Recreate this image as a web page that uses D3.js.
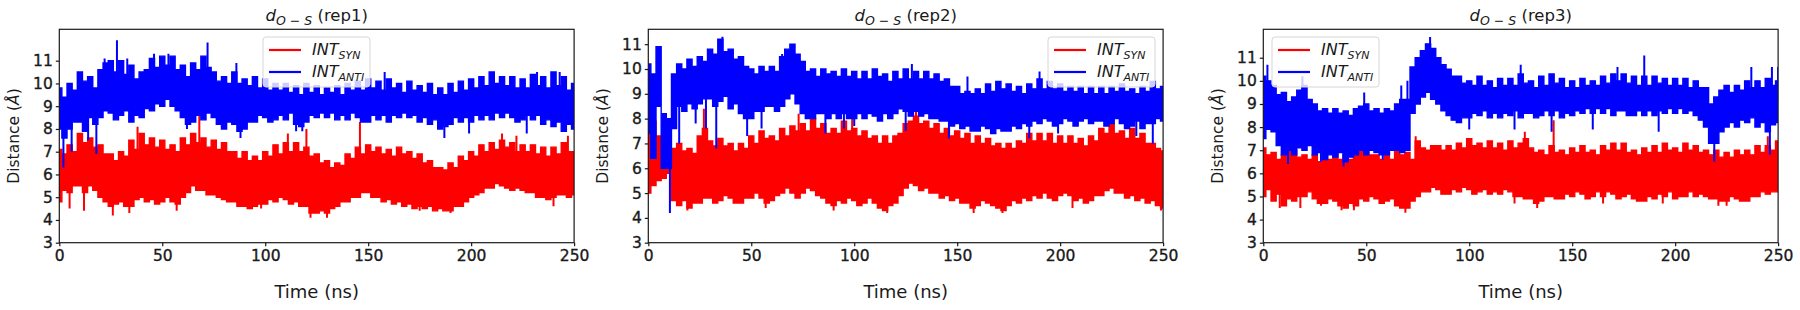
<!DOCTYPE html>
<html>
<head>
<meta charset="utf-8">
<script src="https://cdn.jsdelivr.net/npm/d3@7"></script>
<style>
body{margin:0;background:#fff}
svg{display:block;font-family:"DejaVu Sans",sans-serif}
</style>
</head>
<body>
<svg id="chart" width="1800" height="310"></svg>
<script>
// sampling grid of the read-off envelopes (ns)
const step = 2.5;
const times = d3.range(0, 250 + step / 2, step);
const xTicks = [0, 50, 100, 150, 200, 250];
const yTicks = [3, 4, 5, 6, 7, 8, 9, 10, 11];
const replicas = ["rep1", "rep2", "rep3"];
const yTop = [12.38, 11.6, 12.23];
const seriesNames = ["SYN", "ANTI"];
const colors = ["#ff0000", "#0000ff"];

// rep1
const rep1SynHi = [7.1,6.9,7.3,7.0,7.8,7.4,7.6,7.2,7.3,6.9,6.9,6.6,7.0,6.8,7.5,7.1,7.8,7.3,7.6,7.2,7.5,7.1,7.3,7.0,7.6,7.3,7.8,7.4,7.6,7.2,7.5,7.1,7.4,7.0,7.0,6.7,7.0,6.6,6.8,6.6,7.0,6.8,7.3,6.9,7.4,7.0,7.4,7.0,7.2,6.8,6.9,6.5,6.6,6.3,6.5,6.4,6.9,6.7,7.2,6.9,7.3,7.0,7.2,6.9,7.1,6.8,7.2,6.9,7.0,6.7,6.9,6.5,6.6,6.3,6.3,6.2,6.5,6.3,6.8,6.6,7.0,6.8,7.3,7.0,7.4,7.1,7.5,7.2,7.4,7.0,7.3,7.0,7.3,6.9,7.2,6.8,7.2,6.9,7.4,7.0,7.0];
const rep1SynLo = [4.8,5.3,5.2,5.5,5.5,5.2,5.5,5.3,5.0,4.8,4.6,4.7,4.8,4.6,4.6,4.9,5.0,4.8,4.9,4.7,4.8,5.0,4.8,4.7,5.0,5.2,5.5,5.3,5.3,5.1,5.1,5.0,4.9,4.8,4.8,4.6,4.6,4.5,4.6,4.7,4.7,4.9,4.8,5.0,4.9,4.7,4.8,4.6,4.6,4.3,4.3,4.4,4.3,4.5,4.6,4.8,4.8,5.0,5.0,5.2,5.2,5.0,5.0,4.8,4.9,4.7,4.8,4.6,4.7,4.5,4.6,4.5,4.6,4.4,4.5,4.4,4.4,4.6,4.6,4.8,5.0,5.1,5.2,5.4,5.4,5.6,5.5,5.4,5.3,5.4,5.3,5.2,5.2,5.0,5.0,4.9,5.0,5.1,5.1,5.0,5.1];
const rep1AntiHi = [9.8,9.4,10.0,9.7,10.5,10.1,10.3,9.8,10.6,10.9,11.0,10.5,11.0,10.4,10.8,10.2,10.5,10.6,11.1,10.7,11.2,10.8,11.2,10.6,10.8,10.3,10.9,10.6,11.2,10.7,10.5,10.1,10.3,10.0,10.5,10.0,10.2,9.9,10.3,9.8,10.2,9.7,10.0,9.7,10.0,9.6,9.9,9.5,10.0,9.6,9.9,9.5,9.8,9.6,9.9,9.5,10.0,9.7,10.1,9.7,10.2,9.8,10.1,9.7,10.2,9.8,10.0,9.6,10.1,9.7,9.9,9.6,10.0,9.5,9.8,9.5,10.0,9.6,10.1,9.7,10.2,9.8,10.3,9.9,10.5,10.0,10.3,9.9,10.3,9.8,10.2,9.8,10.4,9.9,10.3,9.8,10.5,9.9,10.3,9.7,10.0];
const rep1AntiLo = [8.0,7.6,8.0,8.3,8.3,7.9,8.5,8.2,8.5,8.8,8.7,8.4,8.6,8.8,8.3,8.6,8.5,8.9,8.8,9.1,9.0,9.3,9.0,8.8,8.5,8.2,8.3,8.6,8.4,8.7,8.5,8.2,8.0,8.3,8.2,7.9,8.0,8.3,8.3,8.6,8.5,8.3,8.4,8.6,8.4,8.7,8.2,8.1,8.3,8.6,8.5,8.7,8.5,8.7,8.4,8.6,8.4,8.7,8.5,8.3,8.3,8.6,8.4,8.6,8.3,8.6,8.5,8.7,8.5,8.6,8.3,8.5,8.2,8.4,8.0,8.1,8.2,8.5,8.3,8.5,8.3,8.6,8.4,8.6,8.4,8.7,8.5,8.7,8.5,8.3,8.4,8.6,8.4,8.6,8.2,8.4,8.1,8.3,7.9,8.2,8.0];
const rep1SynSpikes = [[5,4.5],[12,4.4],[26,4.2],[34,4.3],[38,8.1],[57,4.4],[68,8.6],[98,4.5],[111,7.8],[120,8.0],[122,4.1],[130,4.1],[146,8.3],[175,4.4],[190,4.3],[215,7.8],[222,7.7],[240,4.6],[247,7.7]];
const rep1AntiSpikes = [[2,6.3],[6,7.0],[14,7.5],[18,6.9],[22,11.1],[28,11.9],[33,11.1],[46,11.3],[53,11.3],[62,8.0],[72,11.8],[86,10.9],[88,7.6],[115,7.9],[118,7.9],[158,10.5],[187,7.6],[199,7.8],[227,7.8],[232,10.5],[243,10.5]];

// rep2
const rep2SynHi = [7.5,7.9,7.3,6.8,6.2,6.8,7.0,6.7,6.8,6.6,7.3,7.6,7.1,6.9,7.2,6.9,7.0,6.7,7.0,6.8,7.3,7.0,7.5,7.2,7.3,7.1,7.6,7.3,7.7,7.5,7.8,7.5,8.0,7.6,7.8,7.4,7.6,7.4,7.9,7.5,7.6,7.3,7.5,7.2,7.3,7.0,7.3,7.0,7.3,7.4,7.8,7.9,8.1,7.8,7.9,7.6,7.8,7.4,7.6,7.3,7.5,7.2,7.4,7.0,7.3,7.0,7.2,6.9,7.0,6.8,7.0,6.8,7.1,7.0,7.4,7.1,7.4,7.1,7.4,7.0,7.3,7.0,7.3,7.0,7.2,6.9,7.3,7.1,7.6,7.4,7.8,7.4,7.5,7.2,7.6,7.2,7.4,7.0,7.0,6.8,6.7];
const rep2SynLo = [5.0,5.3,5.5,5.6,5.8,4.7,4.5,4.7,4.4,4.6,4.6,4.8,4.8,4.6,4.7,4.9,4.8,4.6,4.6,4.8,4.8,5.0,4.8,4.6,4.7,4.9,5.0,5.2,5.0,4.8,5.0,5.2,5.1,4.9,4.8,4.6,4.5,4.7,4.6,4.8,4.7,4.5,4.6,4.8,4.6,4.4,4.3,4.5,4.6,4.9,5.2,5.4,5.3,5.1,5.2,5.0,5.0,4.8,4.9,4.7,4.8,4.6,4.6,4.4,4.5,4.7,4.6,4.5,4.4,4.3,4.5,4.7,4.6,4.8,4.7,4.9,4.8,5.0,4.8,4.7,4.9,5.0,4.9,4.7,4.8,4.6,4.7,4.9,4.9,5.1,5.2,5.0,5.0,4.8,4.9,4.7,4.8,4.6,4.7,4.5,4.4];
const rep2AntiHi = [10.2,9.8,10.9,8.2,8.0,9.8,10.2,10.0,10.4,10.1,10.5,10.3,10.8,10.6,11.2,10.7,10.8,10.4,10.5,10.1,10.0,9.8,10.1,9.9,10.1,9.9,10.5,10.8,11.0,10.6,10.3,9.9,10.0,9.7,10.0,9.8,9.9,9.7,10.0,9.7,9.9,9.6,9.9,9.6,10.0,9.7,9.8,9.5,9.9,9.6,10.0,9.6,9.9,9.6,9.9,9.6,9.8,9.5,9.6,9.3,9.3,9.0,9.1,9.0,9.2,9.0,9.4,9.1,9.5,9.2,9.4,9.1,9.3,9.0,9.4,9.2,9.6,9.2,9.5,9.2,9.4,9.1,9.3,9.1,9.3,9.0,9.3,9.0,9.3,9.0,9.3,9.1,9.4,9.1,9.2,9.0,9.3,9.1,9.5,9.2,9.3];
const rep2AntiLo = [7.4,6.4,8.5,6.0,6.0,7.6,8.5,8.3,8.6,8.4,8.6,8.8,8.8,8.5,8.7,8.9,8.4,8.6,8.2,8.0,8.0,8.3,8.3,8.5,8.5,8.3,8.5,8.8,9.0,8.6,8.2,8.0,8.0,8.2,8.2,8.0,8.2,8.0,8.2,8.0,8.0,8.2,8.0,8.2,8.1,7.9,8.2,8.0,8.2,8.4,8.3,8.1,8.3,8.1,8.2,8.0,8.0,7.9,7.9,7.7,7.8,7.6,7.7,7.5,7.5,7.7,7.6,7.4,7.6,7.5,7.5,7.7,7.6,7.8,7.7,7.9,7.8,8.0,7.9,7.7,7.8,8.0,7.9,7.7,7.9,8.0,7.8,7.9,7.9,7.7,7.8,8.0,7.8,7.6,7.7,7.9,7.6,7.8,7.8,8.0,7.9];
const rep2SynSpikes = [[3,8.0],[19,4.3],[27,8.4],[57,4.4],[73,8.2],[80,8.3],[90,4.3],[99,8.2],[116,4.2],[130,8.3],[158,4.2],[172,4.2],[206,4.4],[249,4.3]];
const rep2AntiSpikes = [[3,6.4],[10.5,4.2],[15,7.0],[23,7.8],[28,7.6],[33,6.8],[36,11.3],[48,7.3],[55,7.6],[65,10.6],[86,7.4],[95,7.6],[100,7.7],[125,7.5],[128,10.2],[146,7.2],[155,9.7],[185,7.2],[190,9.9],[199,7.4],[237,7.3],[245,7.0]];

// rep3
const rep3SynHi = [7.1,6.8,6.9,6.6,6.8,7.0,7.0,6.7,6.8,6.6,6.8,6.5,6.8,6.6,6.9,6.6,6.8,6.6,7.0,7.2,7.1,6.8,6.8,6.6,6.9,6.6,7.0,6.8,6.9,6.6,7.4,7.1,7.0,7.2,7.2,7.0,7.2,7.0,7.3,7.1,7.5,7.2,7.3,7.1,7.4,7.1,7.3,7.0,7.4,7.1,7.3,7.5,7.1,6.9,7.0,6.8,7.2,6.9,7.0,6.8,7.1,6.9,7.2,6.9,7.0,6.8,7.2,7.0,7.3,7.0,7.3,6.9,7.0,6.8,7.1,6.9,7.2,6.9,7.3,7.0,7.1,6.9,7.3,7.0,7.2,6.9,7.0,6.8,7.0,6.7,6.9,6.7,7.0,6.8,7.0,6.8,7.2,6.9,7.2,7.0,7.4];
const rep3SynLo = [5.0,5.3,4.8,5.1,4.6,4.9,4.8,5.0,5.0,5.2,4.9,4.7,4.7,4.9,4.8,4.6,4.5,4.7,4.6,4.9,4.8,5.0,4.9,4.7,4.8,4.9,4.6,4.5,4.5,4.8,5.0,5.2,5.2,5.4,5.3,5.1,5.1,5.3,5.2,5.4,5.3,5.1,5.2,5.3,5.1,5.2,5.1,5.3,5.2,5.0,5.0,4.9,4.9,4.7,4.8,5.0,5.0,4.9,4.9,5.1,5.0,5.2,5.1,4.9,5.0,5.2,5.0,5.2,5.1,4.9,5.0,5.1,4.9,4.8,4.8,5.0,4.9,5.1,5.0,5.2,4.9,5.0,5.0,5.2,5.0,5.1,5.0,4.9,4.9,4.8,4.8,5.0,4.9,4.8,4.8,5.0,5.0,5.2,5.1,5.2,5.2];
const rep3AntiHi = [10.2,10.0,9.8,9.4,9.5,9.1,9.3,9.6,9.8,9.2,9.0,8.7,8.8,8.6,8.8,8.6,8.7,8.5,8.8,8.9,9.0,8.7,8.8,8.6,8.8,8.7,9.0,9.2,9.2,10.6,11.0,11.3,11.6,11.4,11.0,10.7,10.5,10.2,10.2,9.9,10.0,9.8,10.2,9.8,10.0,9.7,10.1,9.8,10.1,9.8,10.3,9.9,10.0,9.7,10.2,9.8,10.3,9.9,10.1,9.7,10.0,9.7,10.1,9.8,10.0,9.8,10.2,9.9,10.3,10.0,10.3,9.9,10.2,9.8,10.2,9.8,10.2,9.9,10.1,9.8,10.1,9.8,10.1,9.7,10.0,9.7,9.7,9.0,9.3,9.6,9.8,9.5,9.8,9.6,10.0,9.7,10.0,9.7,10.1,9.8,10.0];
const rep3AntiLo = [7.5,7.9,7.8,7.2,6.8,7.0,6.8,7.1,7.0,7.2,6.8,6.9,6.6,6.8,6.7,6.9,6.5,6.7,6.8,7.0,6.8,7.0,6.9,6.8,6.8,7.0,7.0,6.9,7.0,8.6,9.0,9.3,9.5,9.2,9.0,8.7,8.5,8.3,8.2,8.4,8.4,8.6,8.5,8.7,8.4,8.6,8.4,8.6,8.5,8.7,8.4,8.6,8.6,8.4,8.5,8.7,8.5,8.7,8.4,8.6,8.5,8.7,8.6,8.8,8.6,8.8,8.6,8.8,8.5,8.7,8.7,8.5,8.5,8.7,8.5,8.7,8.5,8.7,8.6,8.8,8.6,8.8,8.6,8.7,8.5,8.3,8.0,7.3,7.3,7.8,8.0,8.2,8.0,8.3,8.2,8.4,8.0,8.2,7.8,8.1,8.2];
const rep3SynSpikes = [[8,4.5],[18,4.5],[28,4.6],[38,4.4],[44,4.4],[48,7.4],[69,4.3],[74,7.6],[122,4.7],[127,7.8],[133,4.5],[141,8.3],[165,4.7],[194,4.7],[221,4.6],[225,4.6],[245,7.6]];
const rep3AntiSpikes = [[2,10.7],[12,6.4],[19,10.2],[28,6.5],[39,6.3],[49,9.5],[58,6.6],[67,9.8],[70,10.0],[78,9.8],[81,11.9],[100,7.9],[122,7.9],[125,10.7],[140,7.8],[160,7.9],[172,10.6],[185,11.1],[192,7.8],[219,6.5],[237,10.6],[246,6.8],[247,10.6],[250,10.6]];

const panels = [
  {syn: [rep1SynLo, rep1SynHi, rep1SynSpikes], anti: [rep1AntiLo, rep1AntiHi, rep1AntiSpikes]},
  {syn: [rep2SynLo, rep2SynHi, rep2SynSpikes], anti: [rep2AntiLo, rep2AntiHi, rep2AntiSpikes]},
  {syn: [rep3SynLo, rep3SynHi, rep3SynSpikes], anti: [rep3AntiLo, rep3AntiHi, rep3AntiSpikes]}
];

// layout
const panelLeft = [59.3, 648.3, 1263.3];
const panelW = 514.8, plotTop = 29.3, plotBottom = 242.7;
const legendLeft = [263, 1048, 1272];
const ink = "#1a1a1a";

const svg = d3.select("#chart");

panels.forEach((p, i) => {
  const left = panelLeft[i];
  const x = d3.scaleLinear().domain([0, 250]).range([left, left + panelW]);
  const y = d3.scaleLinear().domain([3, yTop[i]]).range([plotBottom, plotTop]);
  const g = svg.append("g");

  const clipId = "clip" + i;
  svg.append("clipPath").attr("id", clipId)
    .append("rect")
    .attr("x", left).attr("y", plotTop)
    .attr("width", panelW).attr("height", plotBottom - plotTop);

  const plot = g.append("g").attr("clip-path", "url(#" + clipId + ")");

  [p.syn, p.anti].forEach((s, k) => {
    const [lo, hi, spikes] = s;
    const band = d3.zip(times, lo, hi);
    const area = d3.area()
      .curve(d3.curveStep)
      .x(d => x(d[0]))
      .y0(d => y(d[1]))
      .y1(d => y(d[2]));
    plot.append("path")
      .datum(band)
      .attr("d", area)
      .attr("fill", colors[k])
      .attr("stroke", colors[k])
      .attr("stroke-width", 1.4)
      .attr("stroke-linejoin", "miter");

    const bis = d3.bisector(d => d[0]).center;
    plot.append("g").selectAll("line")
      .data(spikes)
      .join("line")
      .attr("x1", d => x(d[0])).attr("x2", d => x(d[0]))
      .attr("y1", d => { const b = band[bis(band, d[0])]; return y((b[1] + b[2]) / 2); })
      .attr("y2", d => y(d[1]))
      .attr("stroke", colors[k])
      .attr("stroke-width", 2);
  });

  // frame
  g.append("rect")
    .attr("x", left).attr("y", plotTop)
    .attr("width", panelW).attr("height", plotBottom - plotTop)
    .attr("fill", "none").attr("stroke", ink).attr("stroke-width", 1.2);

  const xAxis = g.append("g")
    .attr("transform", "translate(0," + plotBottom + ")")
    .call(d3.axisBottom(x).tickValues(xTicks).tickSize(3.5).tickPadding(4).tickFormat(d3.format("d")));
  const yAxis = g.append("g")
    .attr("transform", "translate(" + left + ",0)")
    .call(d3.axisLeft(y).tickValues(yTicks).tickSize(3.5).tickPadding(3).tickFormat(d3.format("d")));
  [xAxis, yAxis].forEach(a => {
    a.select(".domain").remove();
    a.selectAll(".tick line").attr("stroke", ink).attr("stroke-width", 1.2);
    a.selectAll(".tick text")
      .attr("fill", ink).attr("stroke", ink).attr("stroke-width", 0.35)
      .style("font-size", "15.5px").style("font-family", "DejaVu Sans");
  });

  // title
  const cx = left + panelW / 2;
  const title = g.append("text")
    .attr("x", cx).attr("y", 21)
    .attr("text-anchor", "middle")
    .attr("fill", ink)
    .style("font-size", "16.5px");
  title.append("tspan").style("font-style", "italic").text("d");
  title.append("tspan").attr("dy", 4).style("font-size", "12.5px").style("font-style", "italic").text("O \u2212 S");
  title.append("tspan").attr("dy", -4).text(" (" + replicas[i] + ")");

  // axis labels
  g.append("text")
    .attr("x", cx).attr("y", 298)
    .attr("text-anchor", "middle")
    .attr("fill", ink)
    .style("font-size", "18px")
    .text("Time (ns)");
  const yl = g.append("text")
    .attr("transform", "translate(" + (left - 40) + "," + ((plotTop + plotBottom) / 2) + ") rotate(-90)")
    .attr("text-anchor", "middle")
    .attr("fill", ink)
    .style("font-size", "15.5px");
  yl.append("tspan").text("Distance (");
  yl.append("tspan").style("font-style", "italic").text("\u00c5");
  yl.append("tspan").text(")");

  // legend
  const lg = g.append("g").attr("transform", "translate(" + legendLeft[i] + ",37)");
  lg.append("rect")
    .attr("width", 107).attr("height", 50).attr("rx", 3)
    .attr("fill", "#fff").attr("fill-opacity", 0.8)
    .attr("stroke", "#d6d6d6");
  seriesNames.forEach((name, k) => {
    const ly = 13 + k * 22;
    lg.append("line")
      .attr("x1", 6).attr("x2", 38).attr("y1", ly).attr("y2", ly)
      .attr("stroke", colors[k]).attr("stroke-width", 2.2);
    const t = lg.append("text")
      .attr("x", 49).attr("y", ly + 5)
      .attr("fill", ink)
      .style("font-style", "italic")
      .style("font-size", "16px");
    t.append("tspan").text("INT");
    t.append("tspan").attr("dy", 4).style("font-size", "11px").text(name);
  });
});
</script>
</body>
</html>
